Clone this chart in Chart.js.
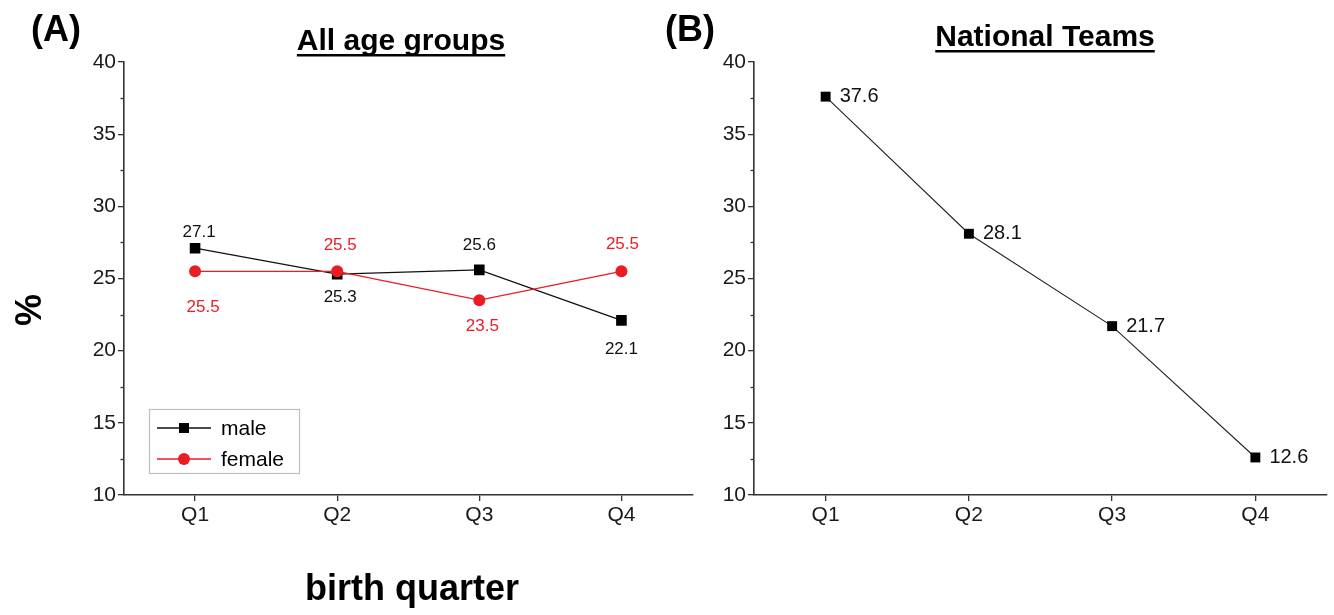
<!DOCTYPE html>
<html>
<head>
<meta charset="utf-8">
<script src="https://cdn.jsdelivr.net/npm/chart.js@4.4.1/dist/chart.umd.min.js"></script>
<style>
  html, body { margin: 0; padding: 0; background: #fff; }
  #wrap { position: relative; width: 1334px; height: 615px; overflow: hidden; }
  canvas { position: absolute; top: 0; }
  #cA { left: 0; }
  #cB { left: 640px; }
</style>
</head>
<body>
<div id="wrap">
  <canvas id="cA" width="700" height="615"></canvas>
  <canvas id="cB" width="694" height="615"></canvas>
</div>
<script>
// Birth-quarter shares (%)
const quarters = ['Q1', 'Q2', 'Q3', 'Q4'];
const maleAll = [27.1, 25.3, 25.6, 22.1];
const femaleAll = [25.5, 25.5, 23.5, 25.5];
const nationalTeams = [37.6, 28.1, 21.7, 12.6];
const yMin = 10, yMax = 40, yStep = 5;

const FONT = "'Liberation Sans', Arial, Helvetica, sans-serif";
const AXIS = '#333';
const RED = '#ea1c24';
const BLACK = '#000';

// Value labels next to each point, drawn at the library's own point positions
const valueLabels = {
  id: 'valueLabels',
  afterDatasetsDraw(chart) {
    const ctx = chart.ctx;
    chart.data.datasets.forEach((ds, di) => {
      const meta = chart.getDatasetMeta(di);
      const lp = ds.labelPlacement;
      ctx.save();
      ctx.font = `${lp.size}px ${FONT}`;
      ctx.fillStyle = ds.labelColor;
      ctx.textAlign = lp.align;
      ctx.textBaseline = 'middle';
      meta.data.forEach((pt, i) => {
        const v = ds.data[i];
        ctx.fillText(v.toFixed(1), pt.x + lp.dx[i], pt.y + lp.dy[i]);
      });
      ctx.restore();
    });
  }
};

// Short minor ticks halfway between the labelled y ticks
const minorTicks = {
  id: 'minorTicks',
  afterDraw(chart) {
    const y = chart.scales.y;
    const ctx = chart.ctx;
    const x0 = chart.chartArea.left;
    ctx.save();
    ctx.strokeStyle = AXIS;
    ctx.lineWidth = 1.3;
    for (let v = yMin + yStep / 2; v < yMax; v += yStep) {
      const py = Math.round(y.getPixelForValue(v)) + 0.5;
      ctx.beginPath();
      ctx.moveTo(x0 - 3.5, py);
      ctx.lineTo(x0, py);
      ctx.stroke();
    }
    ctx.restore();
  }
};

// Panel letter, underlined heading and shared axis titles
const decorations = {
  id: 'decorations',
  afterDraw(chart, args, opts) {
    const ctx = chart.ctx;
    ctx.save();
    ctx.fillStyle = '#000';
    ctx.textBaseline = 'alphabetic';
    // panel letter
    ctx.font = `bold 36px ${FONT}`;
    ctx.textAlign = 'left';
    ctx.fillText(opts.letter, opts.letterX, opts.letterY);
    // heading with underline
    ctx.font = `bold 30px ${FONT}`;
    ctx.textAlign = 'center';
    ctx.fillText(opts.heading, opts.headingX, opts.headingY);
    const w = ctx.measureText(opts.heading).width;
    ctx.fillRect(opts.headingX - w / 2, opts.headingY + 4, w, 2.5);
    if (opts.yTitle) {
      ctx.font = `bold 36px ${FONT}`;
      ctx.save();
      ctx.translate(opts.yTitleX, opts.yTitleY);
      ctx.rotate(-Math.PI / 2);
      ctx.textAlign = 'center';
      ctx.textBaseline = 'middle';
      ctx.fillText(opts.yTitle, 0, 0);
      ctx.restore();
    }
    if (opts.xTitle) {
      ctx.font = `bold 36px ${FONT}`;
      ctx.textAlign = 'center';
      ctx.textBaseline = 'middle';
      ctx.fillText(opts.xTitle, opts.xTitleX, opts.xTitleY);
    }
    ctx.restore();
  }
};

// Boxed legend: short line with the series marker in the middle
const boxLegend = {
  id: 'boxLegend',
  afterDraw(chart, args, opts) {
    if (!opts.show) return;
    const ctx = chart.ctx;
    ctx.save();
    ctx.strokeStyle = '#b8c0c4';
    ctx.lineWidth = 1.2;
    ctx.strokeRect(opts.x + 0.5, opts.y + 0.5, opts.w, opts.h);
    ctx.font = `21px ${FONT}`;
    ctx.textBaseline = 'middle';
    ctx.textAlign = 'left';
    const order = [1, 0];
    chart.data.datasets.forEach((ds, di) => {
      const rowY = opts.y + opts.rowTop + di * opts.rowGap;
      const lx0 = opts.x + 8, lx1 = opts.x + 62, mx = (lx0 + lx1) / 2;
      ctx.strokeStyle = ds.borderColor;
      ctx.lineWidth = 1.3;
      ctx.beginPath();
      ctx.moveTo(lx0, rowY);
      ctx.lineTo(lx1, rowY);
      ctx.stroke();
      ctx.fillStyle = ds.pointBackgroundColor;
      if (ds.pointStyle === 'rect') {
        ctx.fillRect(mx - 5, rowY - 5, 10, 10);
      } else {
        ctx.beginPath();
        ctx.arc(mx, rowY, 6, 0, Math.PI * 2);
        ctx.fill();
      }
      ctx.fillStyle = '#000';
      ctx.fillText(ds.label, opts.x + 72, rowY + 1);
    });
    ctx.restore();
  }
};

function scalesFor(yWidth) {
  return {
    x: {
      type: 'category',
      labels: quarters,
      offset: true,
      grid: { display: true, drawOnChartArea: false, drawTicks: true, tickLength: 6, color: AXIS, lineWidth: 1.3, offset: false },
      border: { display: true, color: AXIS, width: 1.6 },
      ticks: { color: '#1a1a1a', font: { family: FONT, size: 21 }, padding: 2, maxRotation: 0, autoSkip: false },
      afterFit(s) { s.height = 615 - 495; }
    },
    y: {
      type: 'linear',
      min: yMin,
      max: yMax,
      grid: { display: true, drawOnChartArea: false, drawTicks: true, tickLength: 6, color: AXIS, lineWidth: 1.3 },
      border: { display: true, color: AXIS, width: 1.6 },
      ticks: { stepSize: yStep, color: '#1a1a1a', font: { family: FONT, size: 21 }, padding: 2 },
      afterFit(s) { s.width = yWidth; }
    }
  };
}

const common = {
  responsive: false,
  animation: false,
  events: [],
  plugins: { legend: { display: false }, tooltip: { enabled: false }, title: { display: false } }
};

new Chart(document.getElementById('cA'), {
  type: 'line',
  data: {
    labels: quarters,
    datasets: [
      {
        label: 'male',
        data: maleAll,
        order: 1,
        borderColor: '#111',
        borderWidth: 1.3,
        pointStyle: 'rect',
        pointRadius: 7.5,
        pointBackgroundColor: BLACK,
        pointBorderWidth: 0,
        tension: 0,
        labelColor: '#111',
        labelPlacement: { size: 17, align: 'center', dx: [4, 3, 0, 0], dy: [-16, 23, -25, 29] }
      },
      {
        label: 'female',
        data: femaleAll,
        order: 0,
        borderColor: RED,
        borderWidth: 1.3,
        pointStyle: 'circle',
        pointRadius: 6,
        pointBackgroundColor: RED,
        pointBorderWidth: 0,
        tension: 0,
        labelColor: RED,
        labelPlacement: { size: 17, align: 'center', dx: [8, 3, 3, 1], dy: [36, -26, 26, -27] }
      }
    ]
  },
  options: Object.assign({}, common, {
    layout: { padding: { left: 0, right: 2, top: 62, bottom: 0 } },
    scales: scalesFor(124),
    plugins: Object.assign({}, common.plugins, {
      decorations: {
        letter: '(A)', letterX: 31, letterY: 41,
        heading: 'All age groups', headingX: 401, headingY: 50,
        yTitle: '%', yTitleX: 31, yTitleY: 310,
        xTitle: 'birth quarter', xTitleX: 412, xTitleY: 590
      },
      boxLegend: { show: true, x: 149, y: 409, w: 150, h: 64, rowTop: 19, rowGap: 31 }
    })
  }),
  plugins: [valueLabels, minorTicks, decorations, boxLegend]
});

new Chart(document.getElementById('cB'), {
  type: 'line',
  data: {
    labels: quarters,
    datasets: [
      {
        label: 'National Teams',
        data: nationalTeams,
        borderColor: '#222',
        borderWidth: 1.1,
        pointStyle: 'rect',
        pointRadius: 7,
        pointBackgroundColor: BLACK,
        pointBorderWidth: 0,
        tension: 0,
        labelColor: '#111',
        labelPlacement: { size: 20, align: 'left', dx: [14, 14, 14, 14], dy: [0, 0, 0, 0] }
      }
    ]
  },
  options: Object.assign({}, common, {
    layout: { padding: { left: 0, right: 6, top: 62, bottom: 0 } },
    scales: scalesFor(114),
    plugins: Object.assign({}, common.plugins, {
      decorations: {
        letter: '(B)', letterX: 25, letterY: 41,
        heading: 'National Teams', headingX: 405, headingY: 46
      },
      boxLegend: { show: false }
    })
  }),
  plugins: [valueLabels, minorTicks, decorations, boxLegend]
});
</script>
</body>
</html>
